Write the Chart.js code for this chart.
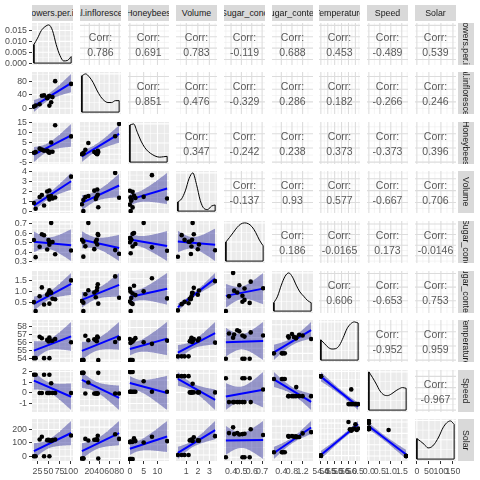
<!DOCTYPE html>
<html><head><meta charset="utf-8">
<script src="https://cdn.jsdelivr.net/npm/chart.js@4/dist/chart.umd.min.js"></script>
<style>
html,body{margin:0;padding:0;background:#fff;}
#wrap{position:relative;width:480px;height:480px;overflow:hidden;font-family:"Liberation Sans",Arial,sans-serif;}
canvas{position:absolute;}
.strip{position:absolute;background:#D9D9D9;color:#1A1A1A;font-size:8.8px;overflow:hidden;display:flex;align-items:center;justify-content:center;white-space:nowrap;}
.strip.r{writing-mode:vertical-rl;}
.corr{position:absolute;color:#595959;font-size:10.5px;text-align:center;line-height:15px;white-space:pre;display:flex;align-items:center;justify-content:center;}
</style></head><body><div id="wrap"></div>
<script>
// ---------- data ----------
const varNames = ['Flowers.per.inf','Total.inflorescence','Honeybees','Volume','Sugar_conc','Sugar_content','Temperature','Speed','Solar'];

const flowersPerInf      = [17, 21, 30, 35, 40, 47, 50, 52, 52, 56, 59, 65, 101];
const totalInflorescence = [5, 8, 12, 37, 38, 30, 35, 8, 36, 18, 33, 80, 72];
const honeybees          = [0, 0.3, 2.0, 1.5, 1.0, 1.0, 0.2, 0.5, 0.0, 5.0, 0.5, 13.5, 8.0];
const volume             = [0.85, 0.27, 1.45, 1.65, 0.60, 2.00, 1.50, 1.20, 2.10, 1.55, 1.30, 1.40, 3.50];
const sugarConc          = [0.53, 0.35, 0.46, 0.59, 0.58, 0.43, 0.53, 0.51, 0.48, 0.71, 0.51, 0.38, 0.42];
const sugarContent       = [0.53, 0.12, 0.80, 1.20, 0.42, 0.87, 0.95, 0.46, 1.07, 0.96, 0.68, 0.66, 1.52];
const temperature        = [54.0, 54.0, 56.7, 56.5, 54.0, 56.3, 56.1, 54.0, 56.6, 56.2, 56.2, 56.4, 56.0];
const speed              = [1.7, 1.7, 0, 0, 1.7, 0, 0, 1.7, 0, 0.9, 0, 0, 0];
const solar              = [0, 0, 125, 145, 0, 120, 122, 0, 118, 115, 120, 125, 155];

// density curves read at 11 evenly spaced points across each variable's range
const densFlowers       = [0.0085, 0.0115, 0.0150, 0.0168, 0.0176, 0.0150, 0.0085, 0.0035, 0.0010, 0.0012, 0.0030];
const densInflorescence = [0.95, 1.0, 0.92, 0.78, 0.58, 0.41, 0.30, 0.25, 0.25, 0.30, 0.30];
const densHoneybees     = [0.97, 1.0, 0.78, 0.55, 0.38, 0.27, 0.20, 0.15, 0.13, 0.14, 0.15];
const densVolume        = [0.24, 0.32, 0.53, 0.85, 1.0, 0.70, 0.28, 0.07, 0.04, 0.13, 0.16];
const densSugarConc     = [0.50, 0.62, 0.75, 0.88, 0.97, 1.0, 0.98, 0.90, 0.75, 0.55, 0.40];
const densSugarContent  = [0.22, 0.39, 0.68, 0.91, 1.0, 0.89, 0.68, 0.50, 0.39, 0.28, 0.22];
const densTemperature   = [0.53, 0.43, 0.33, 0.29, 0.30, 0.39, 0.59, 0.82, 0.95, 1.0, 0.97];
const densSpeed         = [1.0, 0.85, 0.68, 0.50, 0.40, 0.38, 0.42, 0.49, 0.55, 0.59, 0.57];
const densSolar         = [0.53, 0.46, 0.38, 0.29, 0.32, 0.43, 0.60, 0.81, 0.94, 0.99, 0.90];

// correlation labels, upper triangle, row by row
const corrRow1 = ['0.786','0.691','0.783','-0.119','0.688','0.453','-0.489','0.539'];
const corrRow2 = ['0.851','0.476','-0.329','0.286','0.182','-0.266','0.246'];
const corrRow3 = ['0.347','-0.242','0.238','0.373','-0.373','0.396'];
const corrRow4 = ['-0.137','0.93','0.577','-0.667','0.706'];
const corrRow5 = ['0.186','-0.0165','0.173','-0.0146'];
const corrRow6 = ['0.606','-0.653','0.753'];
const corrRow7 = ['-0.952','0.959'];
const corrRow8 = ['-0.967'];

// tick labels
const xTickLabels = [
  ['25','50','75','100'], ['20','40','60','80'], ['0','5','10'], ['1','2','3'],
  ['0.4','0.5','0.6','0.7'], ['0.4','0.8','1.2'], ['54.0','54.5','55.0','55.5','56.0','56.5'],
  ['0.0','0.5','1.0','1.5'], ['0','50','100','150']
];
const yTickLabels = [
  ['0.000','0.005','0.010','0.015'], ['0','40','80'], ['-5','0','5','10','15'], ['0','1','2','3','4'],
  ['0.3','0.4','0.5','0.6','0.7'], ['0.0','0.5','1.0','1.5'], ['54','55','56','57','58'],
  ['-1','0','1','2'], ['0','100','200']
];

// ---------- assembly ----------
const cols = [flowersPerInf, totalInflorescence, honeybees, volume, sugarConc, sugarContent, temperature, speed, solar];
const dens = [densFlowers, densInflorescence, densHoneybees, densVolume, densSugarConc, densSugarContent, densTemperature, densSpeed, densSolar];
const corrRows = [corrRow1, corrRow2, corrRow3, corrRow4, corrRow5, corrRow6, corrRow7, corrRow8];
const N = 9;
const FONT = '"Liberation Sans", Arial, sans-serif';
Chart.defaults.font.family = FONT;

const PW = 41, PH = 42, X0 = 32.3, DX = 47.84, Y0 = 22.7, DY = 49.57;
const AXIS_W = 32, AXIS_H = 18, PAD = 6;
const T975 = 2.201; // t quantile, 11 degrees of freedom
const wrap = document.getElementById('wrap');
const pl = j => Math.round(X0 + j * DX);
const pt = i => Math.round(Y0 + i * DY);

function expand(lo, hi) { const d = (hi - lo) || 1; return [lo - 0.05 * d, hi + 0.05 * d]; }
function niceTicks(min, max) {
  const raw = (max - min) / 4, mag = Math.pow(10, Math.floor(Math.log10(raw)));
  const c = [1, 2, 2.5, 5, 10].find(k => k * mag >= raw);
  const st = c * mag, out = [];
  for (let v = Math.ceil(min / st) * st; v <= max + 1e-12; v += st) out.push(+v.toFixed(10));
  return out;
}
function minorOf(vals, min, max) {
  const out = [];
  if (vals.length < 2) return out;
  const st = vals[1] - vals[0];
  const ext = [vals[0] - st, ...vals, vals[vals.length - 1] + st];
  for (let k = 0; k < ext.length - 1; k++) { const m = (ext[k] + ext[k + 1]) / 2; if (m > min && m < max) out.push(m); }
  return out;
}

const ggGrid = {
  id: 'ggGrid',
  beforeDatasetsDraw(chart, args, o) {
    const { ctx, chartArea: a } = chart;
    const x = chart.scales.x, y = chart.scales.y;
    ctx.save();
    ctx.beginPath(); ctx.rect(a.left, a.top, a.right - a.left, a.bottom - a.top); ctx.clip();
    ctx.fillStyle = o.bg; ctx.fillRect(a.left, a.top, a.right - a.left, a.bottom - a.top);
    const draw = (vals, sc, horiz, color, lw) => {
      ctx.strokeStyle = color; ctx.lineWidth = lw;
      vals.forEach(v => {
        const p = sc.getPixelForValue(v);
        ctx.beginPath();
        if (horiz) { ctx.moveTo(a.left, p); ctx.lineTo(a.right, p); }
        else { ctx.moveTo(p, a.top); ctx.lineTo(p, a.bottom); }
        ctx.stroke();
      });
    };
    draw(minorOf(o.xt, x.min, x.max), x, false, o.minor, 0.55);
    draw(minorOf(o.yt, y.min, y.max), y, true, o.minor, 0.55);
    draw(o.xt.filter(v => v >= x.min && v <= x.max), x, false, o.major, 1.07);
    draw(o.yt.filter(v => v >= y.min && v <= y.max), y, true, o.major, 1.07);
    ctx.restore();
  }
};

function axisCfg(min, max, vals, labels, show, isX) {
  const cfg = {
    type: 'linear', min, max, display: show, bounds: 'data',
    afterBuildTicks: s => { s.ticks = vals.filter(v => v >= min && v <= max).map(v => ({ value: v })); },
    ticks: { autoSkip: false, maxRotation: 0, minRotation: 0, padding: 2, color: '#4D4D4D',
      font: { size: 8.8, family: FONT },
      callback: v => { const k = vals.indexOf(v); return labels && k >= 0 ? labels[k] : ''; } },
    grid: { display: show, drawOnChartArea: false, drawTicks: true, tickLength: 3, color: '#333333', lineWidth: 1 },
    border: { display: false }
  };
  if (show) {
    cfg.afterFit = isX
      ? s => { s.height = AXIS_H; s.paddingLeft = 0; s.paddingRight = 0; }
      : s => { s.width = AXIS_W; s.paddingTop = 0; s.paddingBottom = 0; };
  }
  return cfg;
}

function fitBand(xs, ys) {
  const n = xs.length;
  const mx = xs.reduce((a, b) => a + b, 0) / n, my = ys.reduce((a, b) => a + b, 0) / n;
  let sxx = 0, sxy = 0;
  for (let k = 0; k < n; k++) { sxx += (xs[k] - mx) ** 2; sxy += (xs[k] - mx) * (ys[k] - my); }
  const b = sxy / sxx, a0 = my - b * mx;
  let sse = 0;
  for (let k = 0; k < n; k++) sse += (ys[k] - a0 - b * xs[k]) ** 2;
  const s = Math.sqrt(sse / (n - 2));
  const lo = Math.min(...xs), hi = Math.max(...xs);
  const up = [], dn = [];
  for (let k = 0; k <= 40; k++) {
    const x = lo + (hi - lo) * k / 40, f = a0 + b * x;
    const se = s * Math.sqrt(1 / n + (x - mx) ** 2 / sxx);
    up.push({ x, y: f + T975 * se }); dn.push({ x, y: f - T975 * se });
  }
  return { line: [{ x: lo, y: a0 + b * lo }, { x: hi, y: a0 + b * hi }], up, dn };
}

const xRange = cols.map(c => expand(Math.min(...c), Math.max(...c)));
const xTickVals = xTickLabels.map(a => a.map(Number));
const yTickVals = yTickLabels.map(a => a.map(Number));

function addPanel(i, j) {
  const L = pl(j), T = pt(i);
  const showY = j === 0, showX = i === N - 1;
  const padL = showY ? AXIS_W : PAD, padB = showX ? AXIS_H : PAD;
  const cv = document.createElement('canvas');
  cv.width = PW + padL + PAD; cv.height = PH + PAD + padB;
  cv.style.left = (L - padL) + 'px'; cv.style.top = (T - PAD) + 'px';
  wrap.appendChild(cv);

  const [xmin, xmax] = xRange[j];
  let ymin, ymax, datasets = [], bg = '#EBEBEB', major = '#FFFFFF', minor = '#FFFFFF';
  if (i > j) {
    const xs = cols[j], ys = cols[i];
    const fb = fitBand(xs, ys);
    const all = ys.concat(fb.up.map(p => p.y), fb.dn.map(p => p.y));
    [ymin, ymax] = expand(Math.min(...all), Math.max(...all));
    datasets = [
      { data: xs.map((x, k) => ({ x, y: ys[k] })), showLine: false, pointRadius: 2.3,
        pointBackgroundColor: '#000000', pointBorderColor: 'rgba(0,0,0,0)', pointBorderWidth: 0 },
      { data: fb.line, showLine: true, borderColor: '#0000FF', borderWidth: 2, pointRadius: 0 },
      { data: fb.up, showLine: true, borderColor: 'rgba(0,0,0,0)', borderWidth: 0, pointRadius: 0,
        fill: '+1', backgroundColor: 'rgba(40,40,150,0.45)' },
      { data: fb.dn, showLine: true, borderColor: 'rgba(0,0,0,0)', borderWidth: 0, pointRadius: 0, fill: false }
    ];
  } else if (i === j) {
    const c = cols[j], lo = Math.min(...c), hi = Math.max(...c), d = dens[j];
    const peak = Math.max(...d);
    [ymin, ymax] = [-0.05 * peak, 1.05 * peak];
    const curve = d.map((v, k) => ({ x: lo + (hi - lo) * k / (d.length - 1), y: v }));
    datasets = [
      { data: curve, showLine: true, borderColor: '#000000', borderWidth: 1, pointRadius: 0, cubicInterpolationMode: 'monotone' },
      { data: [{ x: lo, y: d[0] }, { x: lo, y: 0 }, { x: hi, y: 0 }, { x: hi, y: d[d.length - 1] }],
        showLine: true, borderColor: '#000000', borderWidth: 1, pointRadius: 0, tension: 0 }
    ];
  } else {
    const c = cols[i];
    [ymin, ymax] = expand(Math.min(...c), Math.max(...c));
    bg = '#FFFFFF'; major = '#DCDCDC'; minor = '#EAEAEA';
  }
  const yt = showY ? yTickVals[i] : niceTicks(ymin, ymax);
  new Chart(cv, {
    type: 'line',
    data: { datasets },
    plugins: [ggGrid],
    options: {
      responsive: false, animation: false, devicePixelRatio: 1, events: [],
      parsing: true, clip: 0,
      layout: { padding: { left: showY ? 0 : PAD, right: PAD, top: PAD, bottom: showX ? 0 : PAD } },
      scales: {
        x: axisCfg(xmin, xmax, xTickVals[j], xTickLabels[j], showX, true),
        y: axisCfg(ymin, ymax, yt, showY ? yTickLabels[i] : null, showY, false)
      },
      plugins: { legend: { display: false }, tooltip: { enabled: false },
        ggGrid: { bg, major, minor, xt: xTickVals[j], yt } }
    }
  });

  if (i < j) {
    const t = document.createElement('div');
    t.className = 'corr';
    t.style.left = L + 'px'; t.style.top = (T + 1) + 'px';
    t.style.width = PW + 'px'; t.style.height = PH + 'px';
    t.textContent = 'Corr:\n' + corrRows[i][j - i - 1];
    wrap.appendChild(t);
  }
}

for (let i = 0; i < N; i++) for (let j = 0; j < N; j++) addPanel(i, j);

for (let j = 0; j < N; j++) {
  const s = document.createElement('div');
  s.className = 'strip';
  s.style.left = pl(j) + 'px'; s.style.top = '5px'; s.style.width = PW + 'px'; s.style.height = '16px';
  s.textContent = varNames[j];
  wrap.appendChild(s);
}
for (let i = 0; i < N; i++) {
  const s = document.createElement('div');
  s.className = 'strip r';
  s.style.left = '458px'; s.style.top = pt(i) + 'px'; s.style.width = '16px'; s.style.height = PH + 'px';
  s.textContent = varNames[i];
  wrap.appendChild(s);
}
</script></body></html>
